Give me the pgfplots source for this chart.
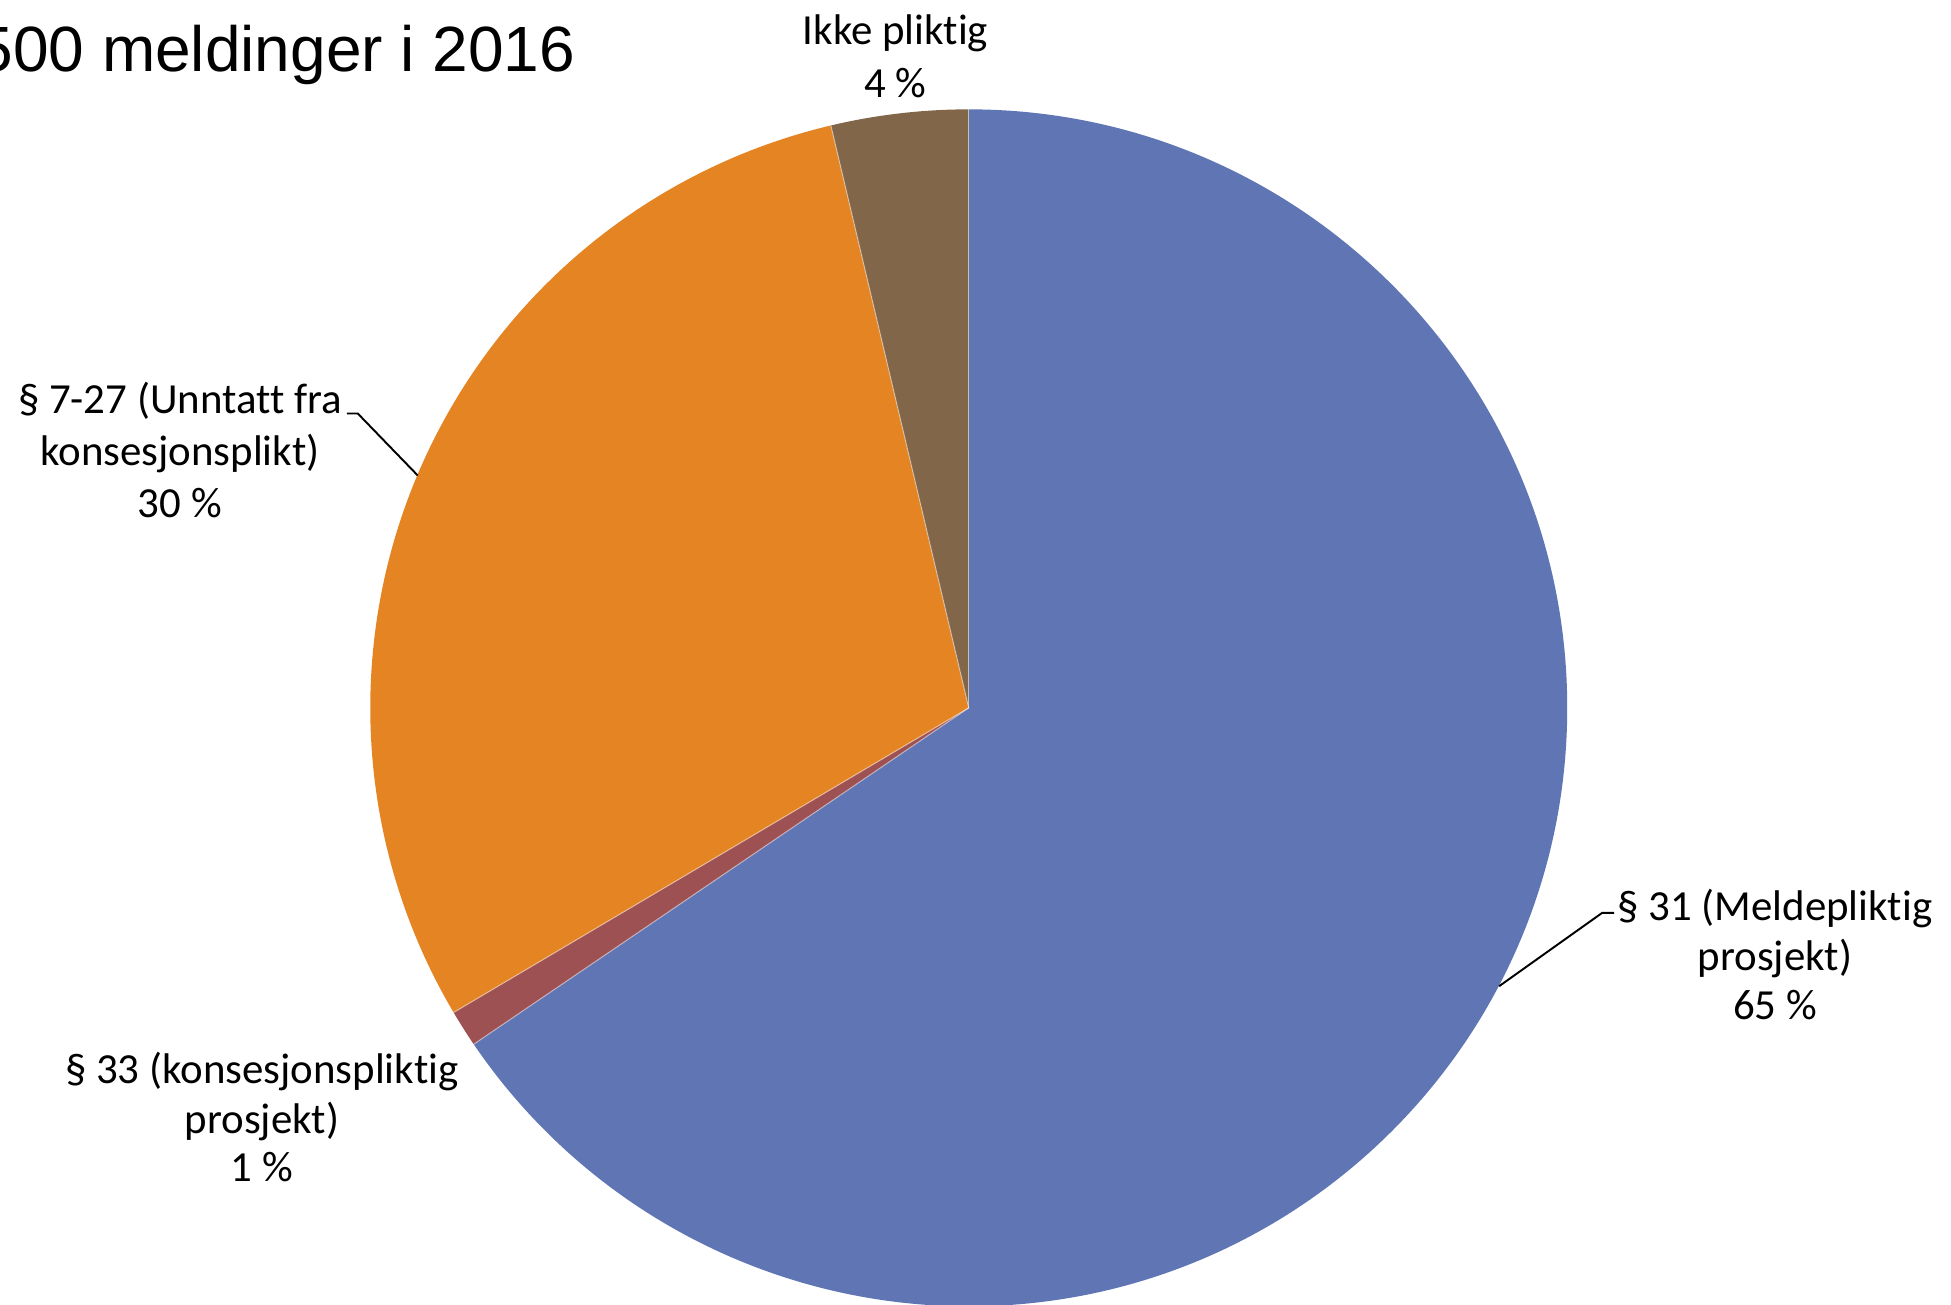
\documentclass[border=0pt]{standalone}
\usepackage{pgfplots}
\pgfplotsset{compat=1.18}
\usepackage{pgfplotstable}
\usepackage{fontspec}
\setmainfont{Carlito}[Ligatures=NoCommon]
\newfontfamily\titlefont{Liberation Sans}
\definecolor{sBlue}{RGB}{96,118,180}
\definecolor{sRed}{RGB}{158,81,83}
\definecolor{sOrange}{RGB}{229,132,34}
\definecolor{sBrown}{RGB}{130,102,74}

\pgfplotstableread{
label value
Par31 65.5
Par33 1.0
Par727 29.8
Ikke 3.7
}\piedata

\begin{document}
\begin{tikzpicture}
\pgfplotstablegetelem{0}{value}\of\piedata \let\vA\pgfplotsretval
\pgfplotstablegetelem{1}{value}\of\piedata \let\vB\pgfplotsretval
\pgfplotstablegetelem{2}{value}\of\piedata \let\vC\pgfplotsretval
\pgfplotstablegetelem{3}{value}\of\piedata \let\vD\pgfplotsretval
% angles, clockwise from the top
\pgfmathsetmacro{\aA}{90}
\pgfmathsetmacro{\aB}{90-3.6*\vA}
\pgfmathsetmacro{\aC}{\aB-3.6*\vB}
\pgfmathsetmacro{\aD}{\aC-3.6*\vC}
\pgfmathsetmacro{\aE}{\aD-3.6*\vD}
\def\R{5.985cm}
\useasboundingbox (0,0) rectangle (19.51cm,13.04cm);
\clip (0,0) rectangle (19.51cm,13.04cm);
\begin{axis}[
  x=0.01cm, y=0.01cm,
  xmin=0, xmax=1951, ymin=0, ymax=1304,
  hide axis, clip=false,
  at={(0,0)}, anchor=origin,
]
\fill[sBlue]   (axis cs:969.3,596.5) -- ++(\aA:\R) arc[start angle=\aA, end angle=\aB, radius=\R] -- cycle;
\fill[sRed]    (axis cs:969.3,596.5) -- ++(\aB:\R) arc[start angle=\aB, end angle=\aC, radius=\R] -- cycle;
\fill[sOrange] (axis cs:969.3,596.5) -- ++(\aC:\R) arc[start angle=\aC, end angle=\aD, radius=\R] -- cycle;
\fill[sBrown]  (axis cs:969.3,596.5) -- ++(\aD:\R) arc[start angle=\aD, end angle=\aE, radius=\R] -- cycle;
\draw[white, opacity=0.45, line width=0.3pt] (axis cs:969.3,596.5) -- ++(\aA:\R);
\draw[white, opacity=0.45, line width=0.3pt] (axis cs:969.3,596.5) -- ++(\aB:\R);
\draw[white, opacity=0.45, line width=0.3pt] (axis cs:969.3,596.5) -- ++(\aC:\R);
\draw[white, opacity=0.45, line width=0.3pt] (axis cs:969.3,596.5) -- ++(\aD:\R);
% leader lines
\draw[black, line width=0.55pt] (axis cs:347,891) -- (axis cs:358,891) -- (axis cs:418,829);
\draw[black, line width=0.55pt] (axis cs:1615,391.3) -- (axis cs:1603,391.3) -- (axis cs:1500,318);
% labels
\node[anchor=base, inner sep=0pt, font=\fontsize{12.2}{15}\selectfont] at (axis cs:896,1260.7) {Ikke pliktig};
\node[anchor=base, inner sep=0pt, font=\fontsize{12.2}{15}\selectfont] at (axis cs:896,1207.3) {4 \%};
\node[anchor=base, inner sep=0pt, font=\fontsize{12.2}{15}\selectfont] at (axis cs:180,891.3) {§ 7-27 (Unntatt fra};
\node[anchor=base, inner sep=0pt, font=\fontsize{12.2}{15}\selectfont] at (axis cs:180,839) {konsesjonsplikt)};
\node[anchor=base, inner sep=0pt, font=\fontsize{12.2}{15}\selectfont] at (axis cs:180,787.3) {30 \%};
\node[anchor=base, inner sep=0pt, font=\fontsize{12.2}{15}\selectfont] at (axis cs:1776,384) {§ 31 (Meldepliktig};
\node[anchor=base, inner sep=0pt, font=\fontsize{12.2}{15}\selectfont] at (axis cs:1776,334) {prosjekt)};
\node[anchor=base, inner sep=0pt, font=\fontsize{12.2}{15}\selectfont] at (axis cs:1776,285) {65 \%};
\node[anchor=base, inner sep=0pt, font=\fontsize{12.2}{15}\selectfont] at (axis cs:262,221) {§ 33 (konsesjonspliktig};
\node[anchor=base, inner sep=0pt, font=\fontsize{12.2}{15}\selectfont] at (axis cs:262,171) {prosjekt)};
\node[anchor=base, inner sep=0pt, font=\fontsize{12.2}{15}\selectfont] at (axis cs:262,123) {1 \%};
% title (cut at the left edge, as in the reference)
\node[anchor=base west, inner sep=0pt, font=\titlefont\fontsize{18.2}{22}\selectfont] at (axis cs:-23,1233.3) {500 meldinger i 2016};
\end{axis}
\end{tikzpicture}
\end{document}
